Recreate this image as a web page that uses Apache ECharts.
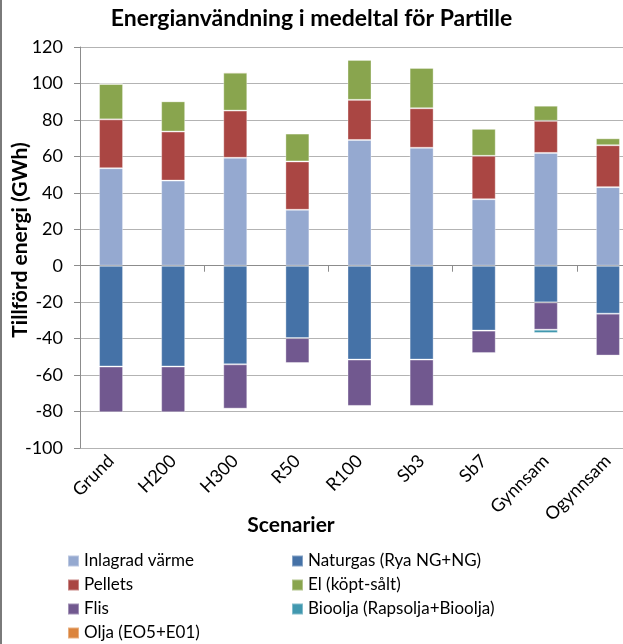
<!DOCTYPE html>
<html><head><meta charset="utf-8">
<script src="https://cdn.jsdelivr.net/npm/echarts@6/dist/echarts.min.js"></script>
<style>html,body{margin:0;padding:0;background:#fff}#c{width:623px;height:644px}</style>
</head><body><div id="c"></div>
<script>
const categories = ['Grund','H200','H300','R50','R100','Sb3','Sb7','Gynnsam','Ogynnsam'];
const inlagrad = [53.5, 46.7, 59.2, 30.7, 69.0, 64.7, 36.5, 61.9, 43.1];
const naturgas = [-55.3, -55.3, -54.1, -39.7, -51.5, -51.5, -35.6, -20.1, -26.3];
const pellets  = [26.8, 26.9, 25.9, 26.5, 22.0, 21.7, 23.8, 17.6, 23.0];
const el       = [19.4, 16.6, 20.8, 15.3, 21.9, 22.1, 14.8, 8.3, 3.8];
const flis     = [-25.1, -25.1, -24.3, -13.7, -25.4, -25.4, -12.3, -15.0, -23.0];
const bioolja  = [-0.3, -0.3, -0.2, -0.2, -0.3, -0.3, -0.5, -1.8, -0.2];
const olja     = [0.4, 0.4, 0.6, 0.5, 0.5, 0.5, 0.3, 0.1, -0.4];
const yTicks = {min: -100, max: 120, interval: 20};

const F = 'Lato, "Open Sans", sans-serif';
const seriesDefs = [
  ['Inlagrad värme', inlagrad, '#95A9D0'],
  ['Naturgas (Rya NG+NG)', naturgas, '#4572A7'],
  ['Pellets', pellets, '#AA4643'],
  ['El (köpt-sålt)', el, '#89A54E'],
  ['Flis', flis, '#71588F'],
  ['Bioolja (Rapsolja+Bioolja)', bioolja, '#4198AF'],
  ['Olja (EO5+E01)', olja, '#DB843D']
];
const chart = echarts.init(document.getElementById('c'));
const legendCommon = {orient:'vertical', itemWidth:11, itemHeight:11, itemGap:6, icon:'rect',
  padding:0, height:120, textStyle:{fontFamily:F, fontSize:17, lineHeight:18, color:'#000'}, selectedMode:false};
chart.setOption({
  animation:false,
  title:{text:'Energianvändning i medeltal för Partille', left:'center', top:2,
    textStyle:{fontFamily:F, fontSize:23, fontWeight:'bold', color:'#000'}},
  grid:{left:80, top:47, bottom:196, right:-16, outerBoundsMode:'none', containLabel:false},
  legend:[
    Object.assign({left:67, top:552, data:['Inlagrad värme','Pellets','Flis','Olja (EO5+E01)']}, legendCommon),
    Object.assign({left:291, top:552, data:['Naturgas (Rya NG+NG)','El (köpt-sålt)','Bioolja (Rapsolja+Bioolja)']}, legendCommon)
  ],
  xAxis:[
    {type:'category', data:categories, position:'bottom',
     axisLine:{onZero:true, lineStyle:{color:'#8c8c8c'}},
     axisTick:{show:true, length:6, lineStyle:{color:'#8c8c8c'}},
     axisLabel:{show:false}, splitLine:{show:false}},
    {type:'category', data:categories, position:'bottom',
     axisLine:{show:false, onZero:false}, axisTick:{show:false},
     axisLabel:{rotate:45, margin:10, fontFamily:F, fontSize:18, color:'#000', interval:0}}
  ],
  yAxis:{type:'value', min:yTicks.min, max:yTicks.max, interval:yTicks.interval,
    axisLine:{show:true, lineStyle:{color:'#8c8c8c'}},
    axisTick:{show:true, length:6, lineStyle:{color:'#8c8c8c'}},
    axisLabel:{margin:17, fontFamily:F, fontSize:18, color:'#000'},
    splitLine:{lineStyle:{color:'#b3b3b3'}}},
  series: seriesDefs.map(([name, data, color]) => ({
    name, type:'bar', stack:'total', data, xAxisIndex:0, barWidth:24,
    itemStyle:{color, borderColor:'rgba(255,255,255,0.35)', borderWidth:1}
  })),
  graphic:[
    {type:'text', x:20, y:240, rotation:Math.PI/2, style:{
      text:'Tillförd energi (GWh)', fontFamily:F, fontSize:21, fontWeight:'bold', fill:'#000',
      align:'center', verticalAlign:'middle'}},
    {type:'text', x:291, y:525, style:{
      text:'Scenarier', fontFamily:F, fontSize:21, fontWeight:'bold', fill:'#000',
      align:'center', verticalAlign:'middle'}},
    {type:'rect', shape:{x:0, y:0, width:2, height:644}, style:{fill:'#7a7a7a'}}
  ]
});
</script></body></html>
